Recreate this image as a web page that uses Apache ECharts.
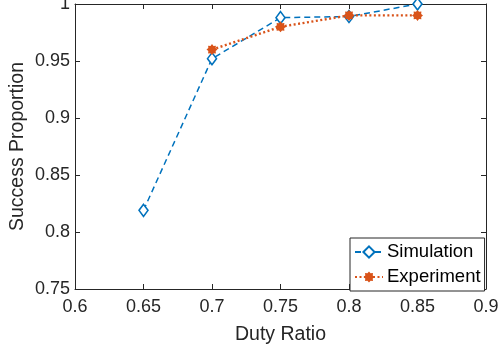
<!DOCTYPE html>
<html><head><meta charset="utf-8">
<script src="https://cdn.jsdelivr.net/npm/echarts@6/dist/echarts.min.js"></script>
<style>html,body{margin:0;padding:0;background:#fff}#c{width:499px;height:351px}</style>
</head><body><div id="c"></div>
<script>
const dutyRatio = [0.65, 0.7, 0.75, 0.8, 0.85];
const simulation = [0.819, 0.952, 0.988, 0.989, 1.0];
const experimentX = [0.7, 0.75, 0.8, 0.85];
const experiment = [0.96, 0.98, 0.99, 0.99];
const xTicks = [0.6, 0.65, 0.7, 0.75, 0.8, 0.85, 0.9];
const yTicks = [0.75, 0.8, 0.85, 0.9, 0.95, 1];

function starPath(){
  let pts=[];
  for(let k=0;k<16;k++){
    const a=k*Math.PI/8; const r=(k%2===0)?10:7.2;
    pts.push((r*Math.cos(a)).toFixed(2)+' '+(r*Math.sin(a)).toFixed(2));
  }
  return 'path://M'+pts.join(' L')+' Z';
}
const ink='#262626';
const font='Liberation Sans, Arial, Helvetica, sans-serif';
const chart=echarts.init(document.getElementById('c'));
const axLine={lineStyle:{color:ink,width:1}};
const fmt=v=>String(+v.toFixed(2));
chart.setOption({
  animation:false,
  backgroundColor:'#fff',
  grid:{left:75,right:13,top:4,bottom:62,containLabel:false,outerBoundsMode:'none'},
  legend:{
    left:350, top:238, orient:'vertical', itemGap:5, itemWidth:28, itemHeight:14,
    padding:[4,4,4,4], borderColor:ink, borderWidth:1, backgroundColor:'#fff', borderRadius:0,
    textStyle:{fontFamily:font,fontSize:18.5,color:'#000',lineHeight:20,padding:[0,0,0,-1]},
    data:['Simulation','Experiment']
  },
  xAxis:[{
    type:'value', min:0.6, max:0.9, interval:0.05,
    axisLine:axLine, axisTick:{inside:true,length:5,lineStyle:{color:ink}},
    splitLine:{show:false},
    axisLabel:{margin:9,fontFamily:font,fontSize:18,color:ink,formatter:fmt},
    name:'Duty Ratio', nameLocation:'middle', nameGap:36, nameMoveOverlap:false,
    nameTextStyle:{fontFamily:font,fontSize:19.5,color:ink}
  },{
    type:'value', position:'top', min:0.6, max:0.9, interval:0.05,
    axisLine:axLine, axisTick:{inside:true,length:5,lineStyle:{color:ink}},
    axisLabel:{show:false}, splitLine:{show:false}
  }],
  yAxis:[{
    type:'value', min:0.75, max:1, interval:0.05,
    axisLine:axLine, axisTick:{inside:true,length:5,lineStyle:{color:ink}},
    splitLine:{show:false},
    axisLabel:{margin:5,fontFamily:font,fontSize:18,color:ink,formatter:fmt},
    name:'Success Proportion', nameLocation:'middle', nameGap:47, nameMoveOverlap:false,
    nameTextStyle:{fontFamily:font,fontSize:19.5,color:ink}
  },{
    type:'value', position:'right', min:0.75, max:1, interval:0.05,
    axisLine:axLine, axisTick:{inside:true,length:5,lineStyle:{color:ink}},
    axisLabel:{show:false}, splitLine:{show:false}
  }],
  series:[{
    name:'Simulation', type:'line',
    data:dutyRatio.map((x,i)=>[x,simulation[i]]),
    symbol:'diamond', symbolSize:[9,12], showAllSymbol:true,
    lineStyle:{color:'#0072BD',width:1.5,type:[6,4]},
    itemStyle:{color:'#fff',borderColor:'#0072BD',borderWidth:1.6},
    z:3
  },{
    name:'Experiment', type:'line',
    data:experimentX.map((x,i)=>[x,experiment[i]]),
    symbol:starPath(), symbolSize:11, showAllSymbol:true,
    lineStyle:{color:'#D95319',width:2.4,type:[2,2.5]},
    itemStyle:{color:'#D95319',borderColor:'#D95319',borderWidth:0},
    z:4
  }]
});
</script></body></html>
